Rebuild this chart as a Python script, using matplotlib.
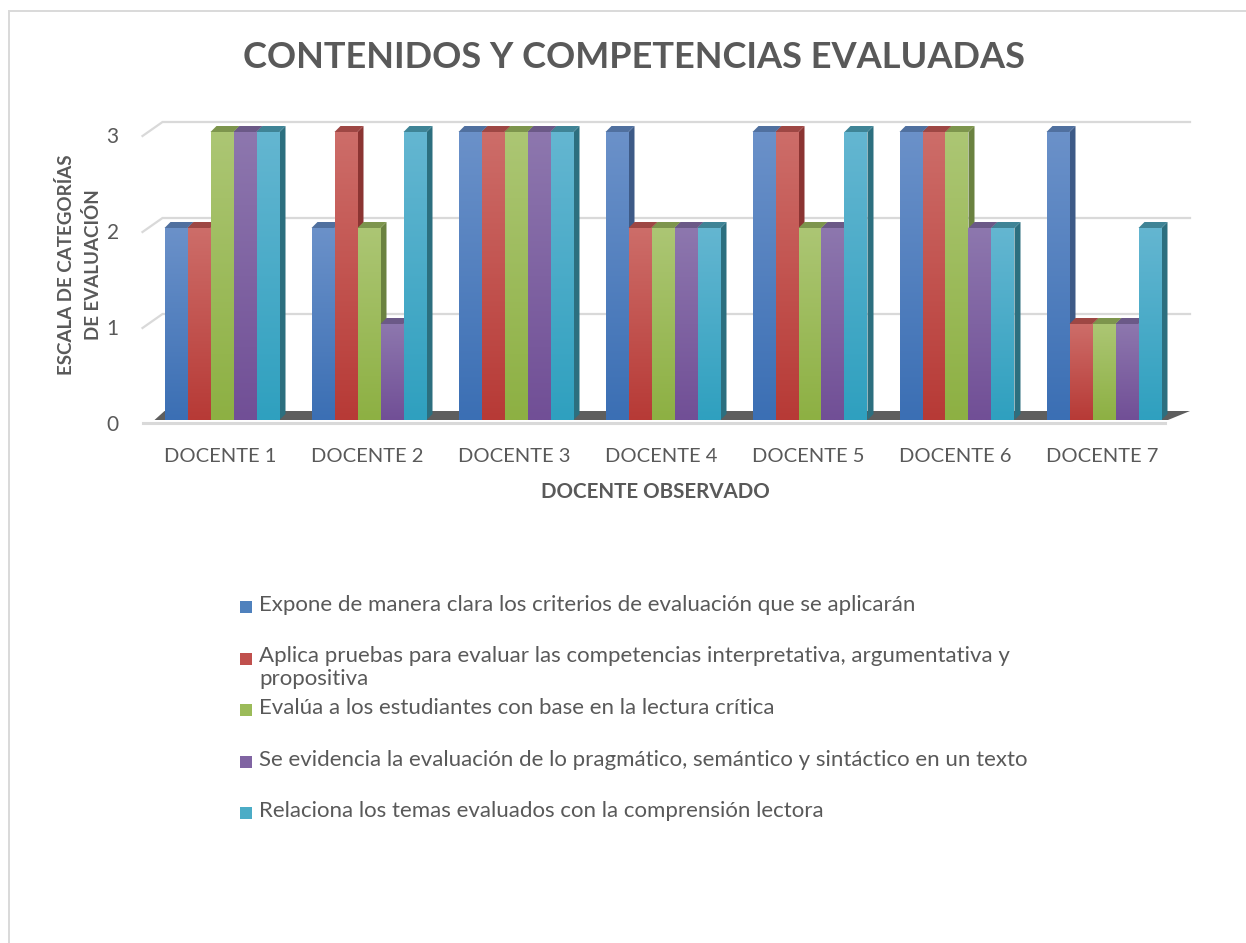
import numpy as np
import matplotlib
matplotlib.use("Agg")
import matplotlib.pyplot as plt
import matplotlib.transforms as mtrans
from matplotlib.patches import Polygon, Rectangle
from matplotlib.colors import LinearSegmentedColormap

# ---------------- data ----------------
title = "CONTENIDOS Y COMPETENCIAS EVALUADAS"
categories = ["DOCENTE 1", "DOCENTE 2", "DOCENTE 3", "DOCENTE 4",
              "DOCENTE 5", "DOCENTE 6", "DOCENTE 7"]
series_names = [
    "Expone de manera clara los criterios de evaluación que se aplicarán",
    "Aplica pruebas para evaluar las competencias interpretativa, argumentativa y\npropositiva",
    "Evalúa a los estudiantes con base en la lectura crítica",
    "Se evidencia la evaluación de lo pragmático, semántico y sintáctico en un texto",
    "Relaciona los temas evaluados con la comprensión lectora",
]
expone = [2, 2, 3, 3, 3, 3, 3]
aplica = [2, 3, 3, 2, 3, 3, 1]
evalua = [3, 2, 3, 2, 2, 3, 1]
evidencia = [3, 1, 3, 2, 2, 2, 1]
relaciona = [3, 3, 3, 2, 3, 2, 2]
series_values = [expone, aplica, evalua, evidencia, relaciona]
y_ticks = [0, 1, 2, 3]
y_label = "ESCALA DE CATEGORÍAS\nDE EVALUACIÓN"
x_label = "DOCENTE OBSERVADO"

# ---------------- styles ----------------
# (bottom of gradient, top of gradient, side face, top face)
palette = [
    ("#3B6FB4", "#6B91C9", "#3D5A87", "#50709F"),
    ("#B73A36", "#CD6D69", "#8B3432", "#9E4744"),
    ("#8DB043", "#ACC674", "#6B8240", "#7D954D"),
    ("#714F96", "#8D77AE", "#57436F", "#6B5987"),
    ("#2FA0BF", "#64B6D1", "#2C6F7F", "#3F8496"),
]
legend_sq = ["#4F81BD", "#C0504D", "#9BBB59", "#8064A2", "#4BACC6"]
TXT = "#595959"
FONT = "Lato"

W, H = 1246, 943
fig = plt.figure(figsize=(W / 100, H / 100), dpi=100)
fig.patch.set_facecolor("white")

ax_left, ax_w = 146.5, 1029.0
ax_bottom_px, ax_top_px = 420.0, 132.0
ax = fig.add_axes([ax_left / W, (H - ax_bottom_px) / H, ax_w / W,
                   (ax_bottom_px - ax_top_px) / H])
ncat = len(categories)
ax.set_xlim(-0.5, ncat - 0.5)
ax.set_ylim(0, 3)
for s in ax.spines.values():
    s.set_visible(False)
ax.set_facecolor("none")

ppx = ax_w / ncat
ppy = (ax_bottom_px - ax_top_px) / 3.0


def dx(p):
    return p / ppx


def dy(p):
    return p / ppy


def px2x(p):
    return -0.5 + (p - ax_left) / ppx


# gridlines (back wall) with diagonal to the front
grid_c = "#D9D9D9"
front_off = (-4, -4)
back_off = (16, 10)
x_left = -0.5
x_right_back = px2x(1190)
for v in y_ticks[1:]:
    xs = [x_left + dx(front_off[0]), x_left + dx(back_off[0]), x_right_back]
    ys = [v + dy(front_off[1]), v + dy(back_off[1]), v + dy(back_off[1])]
    ax.plot(xs, ys, color=grid_c, lw=1.6, clip_on=False, zorder=1,
            solid_joinstyle="miter")

# floor
ax.plot([x_left + dx(-4), px2x(1165)], [dy(-3), dy(-3)], color=grid_c,
        lw=2.2, clip_on=False, zorder=1)
floor = Polygon([(x_left + dx(8), 0), (px2x(1168), 0),
                 (px2x(1190), dy(9)), (x_left + dx(18), dy(9))],
                closed=True, facecolor="#5E5E5E", edgecolor="none",
                clip_on=False, zorder=2)
ax.add_patch(floor)

# bars
nser = len(series_values)
bw = dx(23)
group = bw * nser
shift = dx(2)
ddx, ddy = dx(6), dy(6)
grad = np.linspace(0, 1, 128).reshape(-1, 1)
z = 3
for i in range(ncat):
    for j in range(nser):
        h = series_values[j][i]
        x0 = i - group / 2 + j * bw + shift
        x1 = x0 + bw
        bot, top, side, topc = palette[j]
        side_p = Polygon([(x1, 0), (x1 + ddx, ddy), (x1 + ddx, h + ddy), (x1, h)],
                         closed=True, facecolor=side, edgecolor="none",
                         clip_on=False, zorder=z)
        top_p = Polygon([(x0, h), (x1, h), (x1 + ddx, h + ddy), (x0 + ddx, h + ddy)],
                        closed=True, facecolor=topc, edgecolor="none",
                        clip_on=False, zorder=z)
        ax.add_patch(side_p)
        ax.add_patch(top_p)
        cmap = LinearSegmentedColormap.from_list("g%d" % j, [bot, top])
        ax.imshow(grad, extent=[x0, x1, 0, h], origin="lower", cmap=cmap,
                  aspect="auto", interpolation="bilinear", zorder=z + 0.5,
                  clip_on=False)
        z += 1

ax.set_xlim(-0.5, ncat - 0.5)
ax.set_ylim(0, 3)

# ticks
ax.set_xticks(range(ncat))
ax.set_xticklabels(categories, fontsize=14.5, color=TXT, family=FONT)
ax.set_yticks(y_ticks)
ax.set_yticklabels([str(t) for t in y_ticks], fontsize=15, color=TXT, family=FONT)
ax.tick_params(axis="x", length=0, pad=20)
ax.tick_params(axis="y", length=0, pad=20)
ydown = mtrans.ScaledTranslation(0, -5 / 100, fig.dpi_scale_trans)
for lbl in ax.get_yticklabels():
    lbl.set_va("center")
    lbl.set_transform(lbl.get_transform() + ydown)

# title & axis labels
fig.text(634 / W, 1 - 57 / H, title, ha="center", va="center", fontsize=26,
         fontweight="bold", color=TXT, family=FONT)
fig.text(80 / W, 1 - 265 / H, y_label, ha="center", va="center", rotation=90,
         fontsize=13.5, fontweight="bold", color=TXT, family=FONT,
         multialignment="center", linespacing=1.6)
fig.text(655 / W, 1 - 492 / H, x_label, ha="center", va="center",
         fontsize=14.8, fontweight="bold", color=TXT, family=FONT)

# legend (manual)
leg_y0, leg_step = 607, 51.5
for k, name in enumerate(series_names):
    yc = leg_y0 + k * leg_step
    fig.patches.append(Rectangle((240 / W, 1 - (yc + 6) / H), 12 / W, 12 / H,
                                 transform=fig.transFigure, facecolor=legend_sq[k],
                                 edgecolor="none"))
    fig.text(259 / W, 1 - (yc - 12) / H, name, ha="left", va="top",
             fontsize=16, color=TXT, family=FONT, linespacing=1.15)

# outer frame (left and top edges visible)
fig.patches.append(Rectangle((9 / W, -0.02), 1.1, (932 / H) + 0.02,
                             transform=fig.transFigure, facecolor="none",
                             edgecolor="#D9D9D9", lw=1.4))

fig.savefig("out.png", dpi=100)
